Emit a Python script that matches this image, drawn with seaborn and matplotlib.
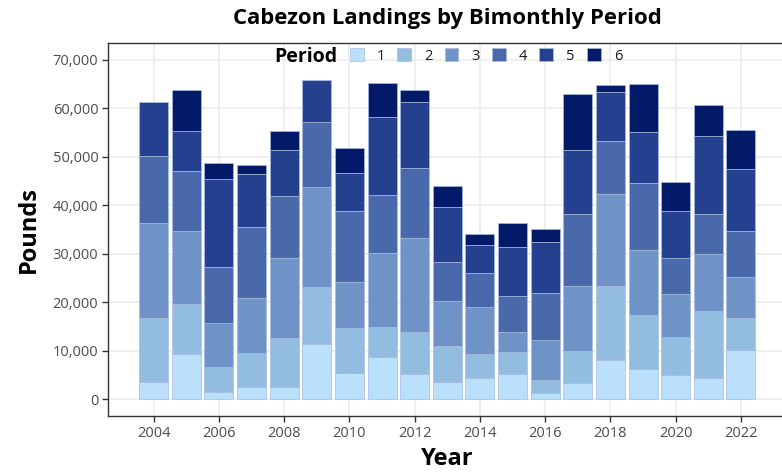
import numpy as np
import pandas as pd
import matplotlib
matplotlib.use("Agg")
import matplotlib.pyplot as plt
from matplotlib.patches import Patch
from matplotlib.ticker import FuncFormatter
import seaborn as sns

# Cabezon landings (pounds) per year, split by bimonthly period
years = list(range(2004, 2023))
period_1 = [3440, 9360, 1510, 2410, 2410, 11360, 5440, 8600, 5160, 3440,
            4340, 5230, 1240, 3370, 8050, 6130, 4890, 4270, 10050]
period_2 = [13350, 10260, 5030, 7090, 10260, 11770, 9150, 6260, 8600, 7500,
            5020, 4540, 2690, 6610, 15350, 11220, 7920, 13830, 6680]
period_3 = [19550, 15070, 9150, 11430, 16450, 20720, 9640, 15280, 19480, 9220,
            9710, 4130, 8330, 13420, 19000, 13420, 8950, 11910, 8470]
period_4 = [13900, 12390, 11560, 14590, 12800, 13350, 14590, 11980, 14460, 8120,
            7020, 7370, 9700, 14800, 10880, 13900, 7430, 8190, 9500]
period_5 = [11150, 8330, 18170, 11010, 9570, 8600, 7850, 16110, 13630, 11290,
            5710, 10120, 10530, 13150, 10050, 10460, 9710, 16180, 12800]
period_6 = [0, 8470, 3240, 1720, 3790, 0, 5230, 6950, 2410, 4410,
            2200, 4890, 2690, 11630, 1450, 9910, 5990, 6260, 7990]

period_labels = ["1", "2", "3", "4", "5", "6"]
period_colors = ["#BAE0FB", "#93BCE1", "#6F93C7", "#4A69AB", "#25408E", "#021A68"]

series = [period_1, period_2, period_3, period_4, period_5, period_6]
df = pd.DataFrame({
    "Year": np.repeat([years], 6, axis=0).ravel(),
    "Period": np.repeat(period_labels, len(years)),
    "Pounds": np.concatenate(series),
})

sns.set_theme(style="white")
plt.rcParams["font.family"] = ["Open Sans", "DejaVu Sans"]

fig = plt.figure(figsize=(7.82, 4.74), dpi=100)
ax = fig.add_axes([108 / 782, 58 / 474, (786.6 - 108) / 782, (416 - 43) / 474])

# Seaborn stacks hue levels with the last level at the bottom,
# so pass the order reversed to put period 1 on the baseline.
palette = dict(zip(period_labels, period_colors))
sns.histplot(
    data=df, x="Year", weights="Pounds", hue="Period",
    hue_order=period_labels[::-1], palette=palette,
    multiple="stack", discrete=True, shrink=0.89, alpha=1,
    edgecolor="#A7BCE0", linewidth=0.5, legend=False, ax=ax,
)

ax.set_xlim(2002.6, 2023.4)
ax.set_ylim(-3500, 73500)
ax.set_xticks(range(2004, 2023, 2))
ax.set_yticks(range(0, 70001, 10000))
ax.yaxis.set_major_formatter(FuncFormatter(lambda v, _: f"{int(v):,}"))

ax.set_axisbelow(True)
ax.grid(True, color="#EBEBEB", linewidth=1.1)
for side in ["left", "bottom", "top"]:
    ax.spines[side].set_visible(True)
    ax.spines[side].set_color("#333333")
    ax.spines[side].set_linewidth(1.0)
ax.spines["right"].set_visible(False)

ax.tick_params(axis="both", which="major", length=4, width=1, color="#333333",
               labelsize=10.5, labelcolor="#4D4D4D", pad=3, direction="out",
               bottom=True, left=True)

ax.set_xlabel("Year", fontsize=17, fontweight="bold", color="black")
ax.set_ylabel("Pounds", fontsize=17, fontweight="bold", color="black")
ax.xaxis.set_label_coords((447 - 108) / (786.6 - 108), -(459 - 416) / (416 - 43))
ax.yaxis.set_label_coords(-(108 - 29) / (786.6 - 108), 0.5)
ax.xaxis.label.set_va("center")
ax.yaxis.label.set_va("center")

fig.text(447 / 782, 1 - 18.5 / 474, "Cabezon Landings by Bimonthly Period",
         ha="center", va="center", fontsize=15.9, fontweight="bold", color="black")

# Horizontal legend inside the top of the panel
handles = [Patch(facecolor=c, edgecolor="#A7BCE0", linewidth=0.5) for c in period_colors]
leg = ax.legend(handles, period_labels, ncol=6, frameon=False,
                loc="center left", bbox_to_anchor=(350 / 782, 1 - 56 / 474),
                bbox_transform=fig.transFigure, borderpad=0, borderaxespad=0,
                handlelength=0.95, handleheight=0.95, handletextpad=0.9,
                columnspacing=0.82, fontsize=10.5)
for t in leg.get_texts():
    t.set_color("#1A1A1A")
fig.text(337 / 782, 1 - 56.5 / 474, "Period", ha="right", va="center",
         fontsize=14, fontweight="bold", color="black")

fig.savefig("out.png", dpi=100)
